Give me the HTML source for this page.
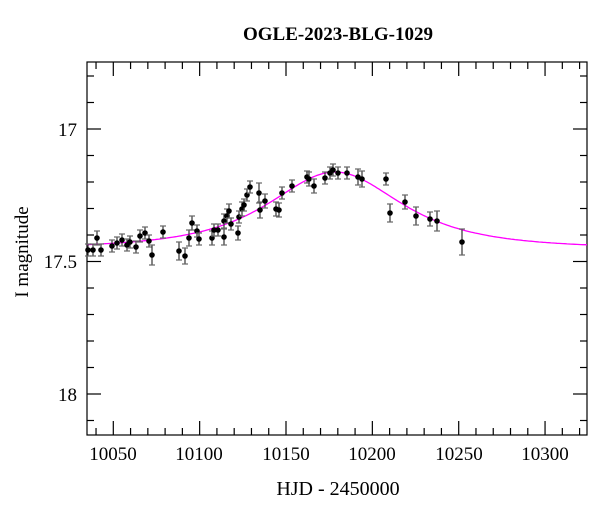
<!DOCTYPE html>
<html><head><meta charset="utf-8"><style>
body{margin:0;background:#fff;}
svg{display:block;font-family:"Liberation Serif",serif;}
</style></head><body>
<svg id="s" width="600" height="512" xmlns="http://www.w3.org/2000/svg">
<text x="338" y="40" text-anchor="middle" font-size="19" font-weight="bold">OGLE-2023-BLG-1029</text>
<text x="338" y="495" text-anchor="middle" font-size="20">HJD - 2450000</text>
<text transform="translate(28,252) rotate(-90)" text-anchor="middle" font-size="19">I magnitude</text>
<g font-size="19" text-anchor="end">
<text x="77" y="136">17</text><text x="77" y="268">17.5</text><text x="77" y="401">18</text>
</g>
<g font-size="19" text-anchor="middle">
<text x="113" y="460">10050</text><text x="199" y="460">10100</text><text x="286" y="460">10150</text>
<text x="372" y="460">10200</text><text x="459" y="460">10250</text><text x="545" y="460">10300</text>
</g>
<g id="ax" stroke="#000" stroke-width="1.2" fill="none"></g>
<polyline id="curve" fill="none" stroke="#ff00ff" stroke-width="1.3"/>
<g id="pts"></g>
</svg>
<script>
var ns="http://www.w3.org/2000/svg",L=87,R=587,T=62,B=435;
function el(p,t,a){var e=document.createElementNS(ns,t);for(var k in a)e.setAttribute(k,a[k]);p.appendChild(e);return e;}
var ax=document.getElementById('ax');
el(ax,'rect',{x:L,y:T,width:R-L,height:B-T});
for(var v=10040;v<=10320;v+=10){var x=113.3+(v-10050)*1.727;if(x<L||x>R)continue;var l=(v%50==0)?14:7;
el(ax,'line',{x1:x,y1:B,x2:x,y2:B-l});el(ax,'line',{x1:x,y1:T,x2:x,y2:T+l});}
for(var i=-2;i<=11;i++){var y=129+i*26.5;if(y<T||y>B)continue;var l=(i%5==0)?14:7;
el(ax,'line',{x1:L,y1:y,x2:L+l,y2:y});el(ax,'line',{x1:R,y1:y,x2:R-l,y2:y});}
var pp=[];for(var x=L;x<=R;x+=2){var d=(x-335)/103;pp.push(x+','+(249-77*Math.pow(1+d*d,-1.5)).toFixed(1));}
document.getElementById('curve').setAttribute('points',pp.join(' '));
var P=[[88,250,6],[93,250,6],[97,238,7],[101,250,6],[112,246,6],[117,243,6],[122,240,6],[127,245,6],[130,242,6],[136,247,6],[140,236,6],[145,233,6],[149,241,6],[152,255,10],[163,232,6],[179,251,9],[185,256,8],[189,238,8],[192,223,7],[197,231,6],[199,239,6],[212,238,7],[214,230,6],[218,230,6],[224,237,8],[224,221,7],[227,216,7],[229,211,7],[231,224,6],[238,233,7],[239,217,6],[242,209,7],[244,205,6],[247,195,6],[250,187,6],[259,193,10],[260,210,8],[265,201,7],[276,209,7],[279,210,7],[282,193,6],[292,186,6],[307,177,6],[309,179,7],[314,186,7],[325,178,6],[330,173,6],[333,170,6],[338,173,6],[347,173,6],[358,177,8],[362,179,8],[386,179,6],[390,213,9],[405,202,7],[416,216,9],[430,219,7],[437,221,10],[462,242,13]];
var g=document.getElementById('pts');
P.forEach(function(p){var x=p[0],y=p[1],e=p[2];
el(g,'line',{x1:x,y1:y-e,x2:x,y2:y+e,stroke:'#333','stroke-width':1.2});
el(g,'line',{x1:x-3,y1:y-e,x2:x+3,y2:y-e,stroke:'#666','stroke-width':1.2});
el(g,'line',{x1:x-3,y1:y+e,x2:x+3,y2:y+e,stroke:'#666','stroke-width':1.2});
el(g,'circle',{cx:x,cy:y,r:2.8,fill:'#000'});});
</script>
</body></html>
